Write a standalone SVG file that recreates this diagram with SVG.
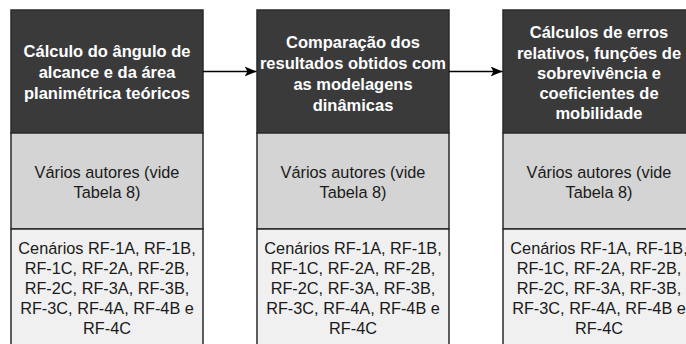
<svg xmlns="http://www.w3.org/2000/svg" width="686" height="344" viewBox="0 0 686 344">
<style>
.dark{fill:#3a3a3a;stroke:#2a2a2a;stroke-width:1.5}
.mid{fill:#d4d4d4;stroke:#2a2a2a;stroke-width:1.5}
.light{fill:#f0f0f0;stroke:#2a2a2a;stroke-width:1.5}
.th{font-family:"Liberation Sans",Arial,sans-serif;font-size:16.5px;font-weight:bold;fill:#ffffff;text-anchor:middle;dominant-baseline:central}
.tb{font-family:"Liberation Sans",Arial,sans-serif;font-size:16.3px;fill:#1a1a1a;text-anchor:middle;dominant-baseline:central}
.conn{stroke:#000;stroke-width:1.3;fill:none}
</style>
<defs>
<marker id="ah" viewBox="0 0 12 10" refX="12" refY="5" markerWidth="12" markerHeight="10" markerUnits="userSpaceOnUse" orient="auto">
<path d="M0,0 L12,5 L0,10 L3,5 z" fill="#000"/>
</marker>
</defs>
<rect width="686" height="344" fill="#ffffff"/>
<g id="node1">
<rect class="dark" x="11" y="10" width="192" height="123"/>
<rect class="mid" x="11" y="133" width="192" height="96"/>
<rect class="light" x="11" y="229" width="192" height="120"/>
<text class="th"><tspan x="107" y="50.5">Cálculo do ângulo de</tspan><tspan x="107" y="71.5">alcance e da área</tspan><tspan x="107" y="92.5">planimétrica teóricos</tspan></text>
<text class="tb"><tspan x="107" y="172">Vários autores (vide</tspan><tspan x="107" y="192">Tabela 8)</tspan></text>
<text class="tb"><tspan x="107" y="248">Cenários RF-1A, RF-1B,</tspan><tspan x="107" y="268">RF-1C, RF-2A, RF-2B,</tspan><tspan x="107" y="288">RF-2C, RF-3A, RF-3B,</tspan><tspan x="107" y="308">RF-3C, RF-4A, RF-4B e</tspan><tspan x="107" y="328">RF-4C</tspan></text>
</g>
<g id="node2">
<rect class="dark" x="257" y="10" width="192" height="123"/>
<rect class="mid" x="257" y="133" width="192" height="96"/>
<rect class="light" x="257" y="229" width="192" height="120"/>
<text class="th"><tspan x="353" y="42">Comparação dos</tspan><tspan x="353" y="63">resultados obtidos com</tspan><tspan x="353" y="84">as modelagens</tspan><tspan x="353" y="104.5">dinâmicas</tspan></text>
<text class="tb"><tspan x="353" y="172">Vários autores (vide</tspan><tspan x="353" y="192">Tabela 8)</tspan></text>
<text class="tb"><tspan x="353" y="248">Cenários RF-1A, RF-1B,</tspan><tspan x="353" y="268">RF-1C, RF-2A, RF-2B,</tspan><tspan x="353" y="288">RF-2C, RF-3A, RF-3B,</tspan><tspan x="353" y="308">RF-3C, RF-4A, RF-4B e</tspan><tspan x="353" y="328">RF-4C</tspan></text>
</g>
<g id="node3">
<rect class="dark" x="503" y="10" width="192" height="123"/>
<rect class="mid" x="503" y="133" width="192" height="96"/>
<rect class="light" x="503" y="229" width="192" height="120"/>
<text class="th"><tspan x="599" y="32">Cálculos de erros</tspan><tspan x="599" y="52.5">relativos, funções de</tspan><tspan x="599" y="73">sobrevivência e</tspan><tspan x="599" y="93">coeficientes de</tspan><tspan x="599" y="113">mobilidade</tspan></text>
<text class="tb"><tspan x="599" y="172">Vários autores (vide</tspan><tspan x="599" y="192">Tabela 8)</tspan></text>
<text class="tb"><tspan x="599" y="248">Cenários RF-1A, RF-1B,</tspan><tspan x="599" y="268">RF-1C, RF-2A, RF-2B,</tspan><tspan x="599" y="288">RF-2C, RF-3A, RF-3B,</tspan><tspan x="599" y="308">RF-3C, RF-4A, RF-4B e</tspan><tspan x="599" y="328">RF-4C</tspan></text>
</g>
<g id="connectors">
<line class="conn" x1="203" y1="71.5" x2="256.5" y2="71.5" marker-end="url(#ah)"/>
<line class="conn" x1="449" y1="71.5" x2="502.5" y2="71.5" marker-end="url(#ah)"/>
</g>
</svg>
